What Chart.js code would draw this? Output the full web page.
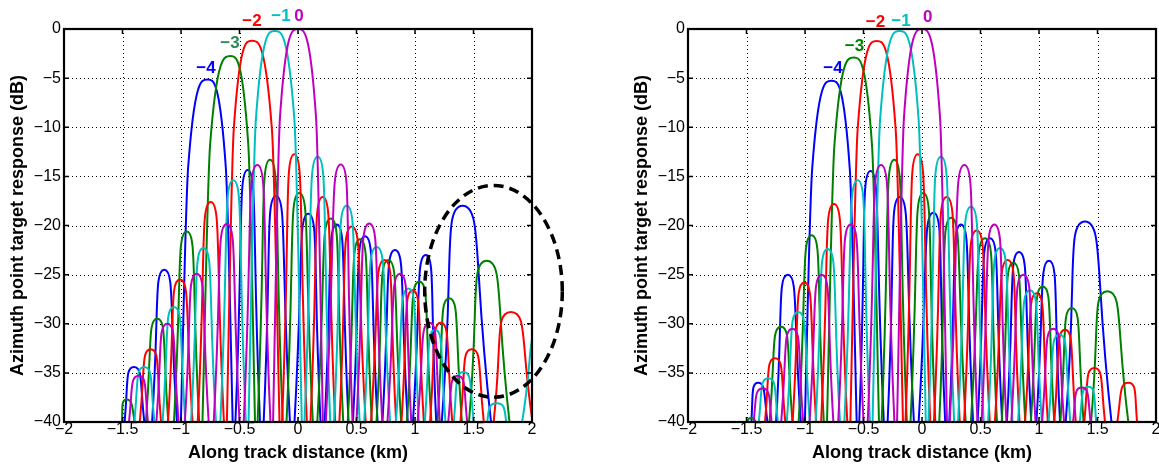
<!DOCTYPE html>
<html><head><meta charset="utf-8">
<script src="https://cdn.jsdelivr.net/npm/chart.js@4.4.0/dist/chart.umd.min.js"></script>
<style>
html,body{margin:0;padding:0;background:#fff;overflow:hidden;width:1159px;height:464px;position:relative;}
#c1{position:absolute;left:0;top:0;width:580px;height:464px;}
#c2{position:absolute;left:580px;top:0;width:620px;height:464px;}
</style></head><body>
<canvas id="c1" width="580" height="464"></canvas>
<canvas id="c2" width="620" height="464"></canvas>
<script>
const FONT = '"Liberation Sans", Arial, Helvetica, sans-serif';
const xTicks = [-2, -1.5, -1, -0.5, 0, 0.5, 1, 1.5, 2];
const yTicks = [0, -5, -10, -15, -20, -25, -30, -35, -40];
const NULL_LEVEL = -44;           // lobe nulls lie below the -40 dB floor
const seriesLabels = ['\u22124', '\u22123', '\u22122', '\u22121', '0'];
const seriesColors = ['#0000ff', '#008000', '#ff0000', '#00bfbf', '#bf00bf'];

// ---------- LEFT PANEL ----------
const L_blue_nulls = [-1.52, -1.27, -1.01, -0.55, -0.31, -0.05, 0.21, 0.45, 0.70, 0.96, 1.20, 1.69];
const L_blue_peakX = [-1.402, -1.143, -0.773, -0.43, -0.188, 0.088, 0.331, 0.573, 0.829, 1.091, 1.407];
const L_blue_peakY = [-34.4, -24.5, -5.13, -14.35, -17.0, -18.8, -19.9, -21.1, -22.5, -23.0, -18.0];
const L_blue_shX = [-0.939, -0.617];
const L_blue_shY = [-14.1, -14.1];

const L_green_nulls = [-1.52, -1.33, -1.08, -0.825, -0.36, -0.115, 0.145, 0.405, 0.65, 0.905, 1.165, 1.43, 1.85];
const L_green_peakX = [-1.464, -1.203, -0.951, -0.577, -0.239, 0.011, 0.28, 0.53, 0.772, 1.037, 1.293, 1.613];
const L_green_peakY = [-37.7, -29.5, -20.6, -2.75, -13.3, -16.7, -19.3, -21.4, -23.5, -25.7, -27.4, -23.6];
const L_green_shX = [-0.751, -0.425];
const L_green_shY = [-11.75, -11.75];

const L_red_nulls = [-1.39, -1.135, -0.875, -0.615, -0.15, 0.09, 0.335, 0.60, 0.86, 1.10, 1.35, 1.63, 2.06];
const L_red_peakX = [-1.259, -1.009, -0.746, -0.394, -0.032, 0.211, 0.459, 0.738, 0.98, 1.22, 1.485, 1.82];
const L_red_peakY = [-32.6, -25.5, -17.6, -1.19, -12.75, -17.1, -20.1, -23.5, -26.6, -29.9, -32.6, -28.8];
const L_red_shX = [-0.549, -0.223];
const L_red_shY = [-10.2, -10.2];

const L_cyan_nulls = [-1.44, -1.185, -0.935, -0.68, -0.43, 0.04, 0.29, 0.545, 0.81, 1.055, 1.29, 1.55, 1.85, 2.40];
const L_cyan_peakX = [-1.314, -1.06, -0.809, -0.553, -0.198, 0.168, 0.416, 0.672, 0.943, 1.171, 1.413, 1.698, 2.12];
const L_cyan_peakY = [-34.4, -28.3, -22.3, -15.4, -0.2, -13.0, -18.0, -22.2, -26.4, -30.6, -34.9, -38.1, -30.0];
const L_cyan_shX = [-0.36, -0.031];
const L_cyan_shY = [-9.2, -9.2];

const L_mag_nulls = [-1.49, -1.24, -0.99, -0.74, -0.48, -0.22, 0.22, 0.48, 0.74, 0.99, 1.24, 1.49];
const L_mag_peakX = [-1.362, -1.117, -0.866, -0.609, -0.348, 0.0, 0.365, 0.609, 0.872, 1.123, 1.365];
const L_mag_peakY = [-35.3, -30.0, -24.9, -19.85, -13.85, 0.0, -13.8, -19.8, -24.9, -29.9, -35.3];
const L_mag_shX = [-0.154, 0.154];
const L_mag_shY = [-9.0, -9.0];

const L_labelX = [-0.786, -0.581, -0.393, -0.145, 0.009];
const L_labelY = [-4.0, -1.46, 0.74, 1.25, 1.25];
const L_labelColors = ['#0000ff', '#2e8b57', '#ff0000', '#00bfbf', '#bf00bf'];
const ellipseCenter = [1.671, -26.7];
const ellipseRadius = [0.588, 10.78];

// ---------- RIGHT PANEL ----------
const R_blue_nulls = [-1.49, -1.27, -1.01, -0.55, -0.31, -0.05, 0.215, 0.455, 0.705, 0.955, 1.20, 1.66];
const R_blue_peakX = [-1.40, -1.147, -0.773, -0.44, -0.19, 0.097, 0.333, 0.581, 0.829, 1.085, 1.393];
const R_blue_peakY = [-36.0, -25.0, -5.26, -14.45, -17.1, -18.7, -19.9, -21.3, -22.7, -23.6, -19.6];
const R_blue_shX = [-0.939, -0.617];
const R_blue_shY = [-14.3, -14.3];

const R_green_nulls = [-1.50, -1.335, -1.075, -0.82, -0.36, -0.115, 0.13, 0.395, 0.66, 0.905, 1.155, 1.41, 1.81];
const R_green_peakX = [-1.462, -1.205, -0.943, -0.583, -0.237, 0.011, 0.25, 0.538, 0.781, 1.032, 1.28, 1.584];
const R_green_peakY = [-39.6, -30.3, -21.0, -2.9, -13.3, -16.7, -19.2, -21.3, -23.8, -26.2, -28.4, -26.7];
const R_green_shX = [-0.749, -0.427];
const R_green_shY = [-11.9, -11.9];

const R_red_nulls = [-1.38, -1.13, -0.88, -0.62, -0.155, 0.085, 0.34, 0.60, 0.855, 1.10, 1.345, 1.61, 1.88];
const R_red_peakX = [-1.256, -1.006, -0.752, -0.387, -0.037, 0.211, 0.467, 0.732, 0.98, 1.222, 1.473, 1.763];
const R_red_peakY = [-33.5, -25.8, -17.8, -1.22, -12.75, -17.1, -20.5, -23.5, -26.9, -30.6, -34.5, -36.0];
const R_red_shX = [-0.55, -0.225];
const R_red_shY = [-10.2, -10.2];

const R_cyan_nulls = [-1.44, -1.185, -0.93, -0.68, -0.43, 0.04, 0.29, 0.545, 0.795, 1.05, 1.30, 1.53];
const R_cyan_peakX = [-1.314, -1.057, -0.806, -0.55, -0.191, 0.162, 0.419, 0.667, 0.923, 1.174, 1.422];
const R_cyan_peakY = [-35.55, -28.8, -22.4, -15.4, -0.2, -13.0, -18.1, -22.3, -26.6, -31.1, -36.4];
const R_cyan_shX = [-0.358, -0.029];
const R_cyan_shY = [-9.2, -9.2];

const R_mag_nulls = [-1.49, -1.235, -0.985, -0.735, -0.48, -0.22, 0.22, 0.49, 0.74, 0.995, 1.245, 1.49];
const R_mag_peakX = [-1.362, -1.108, -0.857, -0.609, -0.35, 0.0, 0.362, 0.618, 0.866, 1.122, 1.365];
const R_mag_peakY = [-36.6, -30.5, -25.0, -19.9, -13.85, 0.0, -13.85, -19.9, -25.0, -30.5, -36.5];
const R_mag_shX = [-0.154, 0.154];
const R_mag_shY = [-9.0, -9.0];

const R_labelX = [-0.761, -0.577, -0.398, -0.179, 0.049];
const R_labelY = [-4.0, -1.8, 0.64, 0.74, 1.19];
const R_labelColors = ['#0000ff', '#008000', '#ff0000', '#00bfbf', '#bf00bf'];

// ---------- build ----------
function lobeDatasets(nulls, peakX, peakY, shX, shY, color, order) {
  const mainIdx = peakY.indexOf(Math.max(...peakY));
  const side = [], main = [];
  peakX.forEach((px, i) => {
    const a = nulls[i], b = nulls[i + 1];
    if (i === mainIdx) {
      main.push({x: a, y: NULL_LEVEL}, {x: shX[0], y: shY[0]}, {x: px, y: peakY[i]},
                {x: shX[1], y: shY[1]}, {x: b, y: NULL_LEVEL});
    } else {
      side.push({x: a, y: NULL_LEVEL}, {x: px, y: peakY[i]}, {x: b, y: NULL_LEVEL}, {x: b, y: null});
    }
  });
  const common = {borderColor: color, backgroundColor: color, borderWidth: 2, pointRadius: 0,
                  pointHoverRadius: 0, fill: false, spanGaps: false, clip: 1, order: order};
  return [
    Object.assign({data: main, cubicInterpolationMode: 'monotone'}, common),
    Object.assign({data: side, tension: 0.75}, common)
  ];
}

function fmt(v) { return String(+Number(v).toFixed(2)).replace('-', '\u2212'); }

function framePlugin(opts) {
  return {
    id: 'frame' + opts.id,
    beforeDatasetsDraw(chart) {
      const {ctx, chartArea: a, scales: {x, y}} = chart;
      ctx.save();
      ctx.strokeStyle = '#000'; ctx.lineWidth = 1; ctx.setLineDash([1, 3]);
      xTicks.slice(1, -1).forEach(v => {
        const px = Math.round(x.getPixelForValue(v)) + 0.5;
        ctx.beginPath(); ctx.moveTo(px, a.top); ctx.lineTo(px, a.bottom); ctx.stroke();
      });
      yTicks.slice(1, -1).forEach(v => {
        const py = Math.round(y.getPixelForValue(v)) + 0.5;
        ctx.beginPath(); ctx.moveTo(a.left, py); ctx.lineTo(a.right, py); ctx.stroke();
      });
      ctx.restore();
    },
    afterDatasetsDraw(chart) {
      const {ctx, chartArea: a, scales: {x, y}} = chart;
      ctx.save();
      ctx.setLineDash([]);
      ctx.strokeStyle = '#000';
      ctx.lineWidth = 1.5;
      const tl = 5;
      xTicks.forEach(v => {
        const px = x.getPixelForValue(v);
        ctx.beginPath(); ctx.moveTo(px, a.bottom); ctx.lineTo(px, a.bottom - tl);
        ctx.moveTo(px, a.top); ctx.lineTo(px, a.top + tl); ctx.stroke();
      });
      yTicks.forEach(v => {
        const py = y.getPixelForValue(v);
        ctx.beginPath(); ctx.moveTo(a.left, py); ctx.lineTo(a.left + tl, py);
        ctx.moveTo(a.right, py); ctx.lineTo(a.right - tl, py); ctx.stroke();
      });
      ctx.lineWidth = 2.2;
      ctx.strokeRect(a.left, a.top, a.right - a.left, a.bottom - a.top);
      // series labels
      ctx.font = 'bold 17px ' + FONT;
      ctx.textAlign = 'center'; ctx.textBaseline = 'middle';
      seriesLabels.forEach((t, i) => {
        ctx.fillStyle = opts.labelColors[i];
        ctx.fillText(t, x.getPixelForValue(opts.labelX[i]), y.getPixelForValue(opts.labelY[i]));
      });
      if (opts.ellipse) {
        const cx = x.getPixelForValue(ellipseCenter[0]);
        const cy = y.getPixelForValue(ellipseCenter[1]);
        const rx = x.getPixelForValue(ellipseCenter[0] + ellipseRadius[0]) - cx;
        const ry = y.getPixelForValue(ellipseCenter[1] - ellipseRadius[1]) - cy;
        ctx.lineWidth = 3.5; ctx.setLineDash([10, 6]); ctx.strokeStyle = '#000';
        ctx.beginPath(); ctx.ellipse(cx, cy, rx, ry, 0, 0, Math.PI * 2); ctx.stroke();
      }
      ctx.restore();
    }
  };
}

function makeChart(id, datasets, padding, opts) {
  return new Chart(document.getElementById(id), {
    type: 'line',
    data: {datasets: datasets},
    plugins: [framePlugin(opts)],
    options: {
      responsive: false, animation: false, events: [],
      layout: {padding: padding},
      plugins: {legend: {display: false}, tooltip: {enabled: false}},
      scales: {
        x: {
          type: 'linear', min: -2, max: 2,
          afterFit: s => { s.height = 42; },
          afterBuildTicks: s => { s.ticks = xTicks.map(v => ({value: v})); },
          grid: {display: false, drawTicks: false}, border: {display: false},
          ticks: {color: '#000', font: {family: FONT, size: 16, lineHeight: 1.0}, padding: 0,
                  maxRotation: 0, minRotation: 0, autoSkip: false, callback: v => fmt(v)},
          title: {display: true, text: 'Along track distance (km)', color: '#000',
                  font: {family: FONT, size: 18, weight: 'bold'}, padding: {top: 0, bottom: 0}}
        },
        y: {
          type: 'linear', min: -40, max: 0,
          afterFit: s => { s.width = 64; },
          afterBuildTicks: s => { s.ticks = yTicks.map(v => ({value: v})); },
          grid: {display: false, drawTicks: false}, border: {display: false},
          ticks: {color: '#000', font: {family: FONT, size: 16}, padding: 3, autoSkip: false,
                  callback: v => fmt(v)},
          title: {display: true, text: 'Azimuth point target response (dB)', color: '#000',
                  font: {family: FONT, size: 18, weight: 'bold'}, padding: {top: 7, bottom: 0}}
        }
      }
    }
  });
}

const leftSets = [].concat(
  lobeDatasets(L_blue_nulls, L_blue_peakX, L_blue_peakY, L_blue_shX, L_blue_shY, seriesColors[0], 5),
  lobeDatasets(L_green_nulls, L_green_peakX, L_green_peakY, L_green_shX, L_green_shY, seriesColors[1], 4),
  lobeDatasets(L_red_nulls, L_red_peakX, L_red_peakY, L_red_shX, L_red_shY, seriesColors[2], 3),
  lobeDatasets(L_cyan_nulls, L_cyan_peakX, L_cyan_peakY, L_cyan_shX, L_cyan_shY, seriesColors[3], 2),
  lobeDatasets(L_mag_nulls, L_mag_peakX, L_mag_peakY, L_mag_shX, L_mag_shY, seriesColors[4], 1)
);
const rightSets = [].concat(
  lobeDatasets(R_blue_nulls, R_blue_peakX, R_blue_peakY, R_blue_shX, R_blue_shY, seriesColors[0], 5),
  lobeDatasets(R_green_nulls, R_green_peakX, R_green_peakY, R_green_shX, R_green_shY, seriesColors[1], 4),
  lobeDatasets(R_red_nulls, R_red_peakX, R_red_peakY, R_red_shX, R_red_shY, seriesColors[2], 3),
  lobeDatasets(R_cyan_nulls, R_cyan_peakX, R_cyan_peakY, R_cyan_shX, R_cyan_shY, seriesColors[3], 2),
  lobeDatasets(R_mag_nulls, R_mag_peakX, R_mag_peakY, R_mag_shX, R_mag_shY, seriesColors[4], 1)
);

makeChart('c1', leftSets, {left: 0, top: 29, right: 48, bottom: 0},
  {id: 'L', labelX: L_labelX, labelY: L_labelY, labelColors: L_labelColors, ellipse: true});
makeChart('c2', rightSets, {left: 44, top: 29, right: 44, bottom: 0},
  {id: 'R', labelX: R_labelX, labelY: R_labelY, labelColors: R_labelColors, ellipse: false});
</script>
</body></html>
